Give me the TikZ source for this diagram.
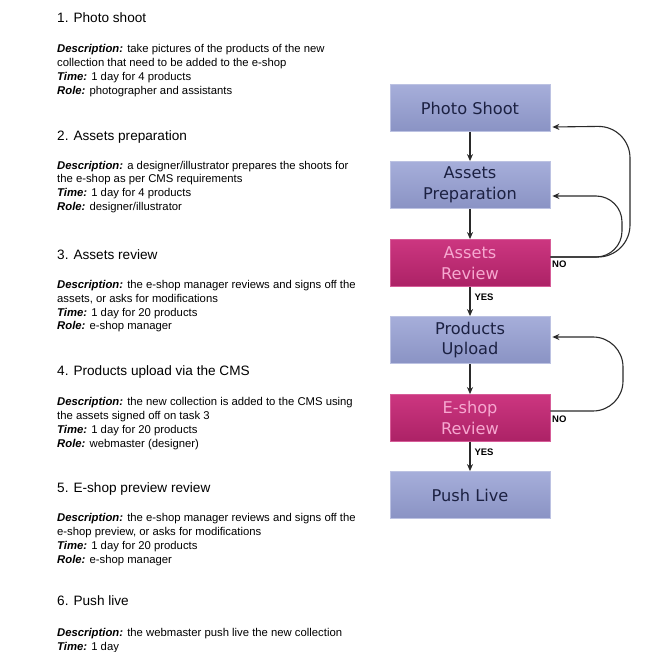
\documentclass[tikz,border=0pt]{standalone}
\usepackage{fontspec}
\setmainfont{Liberation Sans}
\newfontfamily\boxfont{DejaVu Sans}
\usetikzlibrary{arrows.meta}
\definecolor{bluetop}{HTML}{A6AEDA}
\definecolor{bluebot}{HTML}{8A93C4}
\definecolor{blueedge}{HTML}{BCC2E2}
\definecolor{magtop}{HTML}{CC3680}
\definecolor{magbot}{HTML}{AC2266}
\definecolor{magedge}{HTML}{D65C98}
\definecolor{navytext}{HTML}{1C2142}
\definecolor{pinktext}{HTML}{F6A8D0}
\definecolor{linecol}{HTML}{2A2A2A}
\tikzset{
  headtext/.style={anchor=base west, inner sep=0pt, font=\fontsize{13.6}{16}\selectfont},
  bodytext/.style={anchor=north west, inner sep=0pt, align=left, font=\fontsize{11.3}{13.8}\selectfont},
  bluebox/.style={minimum width=160pt, minimum height=47pt, inner sep=0pt, align=center,
    top color=bluetop, bottom color=bluebot, draw=blueedge, line width=0.8pt,
    text=navytext, font=\boxfont\fontsize{16.2}{20.5}\selectfont},
  magbox/.style={bluebox, top color=magtop, bottom color=magbot, draw=magedge, text=pinktext},
  flow/.style={draw=linecol, line width=1.1pt, -{Stealth[length=7pt,width=6pt]}},
  loopline/.style={draw=linecol, line width=1.1pt, -{Stealth[length=7pt,width=6pt]}},
  lbl/.style={inner sep=0pt, font=\bfseries\fontsize{9.5}{11}\selectfont, anchor=west}
}
\newcommand{\dsc}{\textbf{\textit{Description:}}}
\newcommand{\tme}{\textbf{\textit{Time:}}}
\newcommand{\rle}{\textbf{\textit{Role:}}}
\begin{document}
\begin{tikzpicture}[x=1pt,y=-1pt]
\useasboundingbox[fill=white] (0,0) rectangle (654,652);

% left column text
\node[headtext] (h1) at (57,22.5) {1. Photo shoot};
\node[bodytext] (b1) at (57,42.5) {\rule{0pt}{10pt}\dsc{} take pictures of the products of the new\\collection that need to be added to the e-shop\\\tme{} 1 day for 4 products\\\rle{} photographer and assistants};

\node[headtext] (h2) at (57,140.5) {2. Assets preparation};
\node[bodytext] (b2) at (57,159) {\rule{0pt}{10pt}\dsc{} a designer/illustrator prepares the shoots for\\the e-shop as per CMS requirements\\\tme{} 1 day for 4 products\\\rle{} designer/illustrator};

\node[headtext] (h3) at (57,259.5) {3. Assets review};
\node[bodytext] (b3) at (57,278.3) {\rule{0pt}{10pt}\dsc{} the e-shop manager reviews and signs off the\\assets, or asks for modifications\\\tme{} 1 day for 20 products\\\rle{} e-shop manager};

\node[headtext] (h4) at (57,376) {4. Products upload via the CMS};
\node[bodytext] (b4) at (57,395.7) {\rule{0pt}{10pt}\dsc{} the new collection is added to the CMS using\\the assets signed off on task 3\\\tme{} 1 day for 20 products\\\rle{} webmaster (designer)};

\node[headtext] (h5) at (57,492.5) {5. E-shop preview review};
\node[bodytext] (b5) at (57,511.7) {\rule{0pt}{10pt}\dsc{} the e-shop manager reviews and signs off the\\e-shop preview, or asks for modifications\\\tme{} 1 day for 20 products\\\rle{} e-shop manager};

\node[headtext] (h6) at (57,605.5) {6. Push live};
\node[bodytext] (b6) at (57,626) {\rule{0pt}{10pt}\dsc{} the webmaster push live the new collection\\\tme{} 1 day};

% flowchart boxes
\node[bluebox] (ps) at (470,108) {Photo Shoot};
\node[bluebox] (ap) at (470,185) {Assets\\Preparation};
\node[magbox]  (ar) at (470,263) {Assets\\Review};
\node[bluebox] (pu) at (470,340) {Products\\Upload};
\node[magbox]  (er) at (470,418) {E-shop\\Review};
\node[bluebox] (pl) at (470,495) {Push Live};

% straight connectors
\draw[flow] (ps) -- (ap);
\draw[flow] (ap) -- (ar);
\draw[flow] (ar) -- node[lbl, pos=0.35, xshift=4pt] (yes1) {YES} (pu);
\draw[flow] (pu) -- (er);
\draw[flow] (er) -- node[lbl, pos=0.35, xshift=4pt] (yes2) {YES} (pl);

% loop-back connectors
\coordinate (arout) at ([yshift=6pt]ar.east);
\coordinate (erout) at ([yshift=7pt]er.east);
\draw[loopline, rounded corners=32pt] (arout) -- (630,257) -- (630,126) -- ([xshift=2pt,yshift=-19pt]ps.east);
\draw[loopline, rounded corners=26pt] (arout) -- (622,257) -- (622,196) -- ([xshift=2pt,yshift=-11pt]ap.east);
\draw[loopline, rounded corners=30pt] (erout) -- (623,411) -- (623,337) -- ([xshift=2pt,yshift=3pt]pu.east);

\node[lbl] (no1) at (552,264.5) {NO};
\node[lbl] (no2) at (552,419.5) {NO};
\end{tikzpicture}
\end{document}
